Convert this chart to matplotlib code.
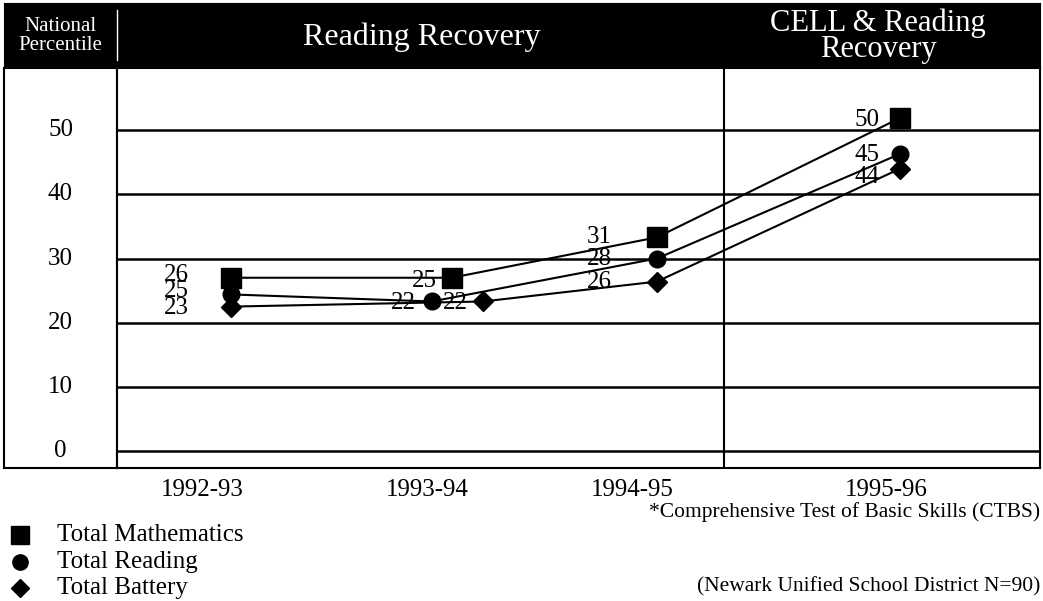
import matplotlib.pyplot as plt
from matplotlib.lines import Line2D

plt.rcParams['font.family'] = ['Liberation Serif', 'DejaVu Serif']

# ---------------------------------------------
# DATOS
# ---------------------------------------------
years = ['1992-93', '1993-94', '1994-95', '1995-96']
year_pos = [-0.13, 0.88, 1.80, 2.94]

math_x = [0.0, 0.99, 1.91, 3.0]
math_y = [27.0, 27.0, 33.3, 51.9]
math_lbl = ['26', '25', '31', '50']

read_x = [0.0, 0.90, 1.91, 3.0]
read_y = [24.4, 23.3, 30.0, 46.3]
read_lbl = ['25', '22', '28', '45']

batt_x = [0.0, 1.13, 1.91, 3.0]
batt_y = [22.5, 23.3, 26.4, 44.0]
batt_lbl = ['23', '22', '26', '44']

y_ticks = [0, 10, 20, 30, 40, 50]

# desplazamiento de cada etiqueta respecto al marcador (pixeles), None = va en el bloque de 1992-93
math_off = [None, (-15, -3), (-45, 0), (-20, -2)]
read_off = [None, (-16, -2), (-45, 0), (-20, -1)]
batt_off = [None, (-15, -2), (-45, 0), (-20, -8)]

W, H = 1043, 601
fig = plt.figure(figsize=(W / 100, H / 100), dpi=100)


def px(x0, y0, x1, y1):
    # rectangulo en pixeles -> coordenadas de figura
    return [x0 / W, 1 - y1 / H, (x1 - x0) / W, (y1 - y0) / H]


ymin, ymax = -2.66, 59.7

# --------------------------------------------------
# ENCABEZADO
# --------------------------------------------------
head = fig.add_axes(px(4, 3, 1040, 68))
head.set_facecolor('black')
head.set_xticks([])
head.set_yticks([])
for s in head.spines.values():
    s.set_color('black')
head.set_xlim(0, 1)
head.set_ylim(0, 1)
head.axvline((117 - 4) / (1040 - 4), ymin=0.12, ymax=0.9, color='white', lw=1)

fig.text(60 / W, 1 - 36 / H, 'National\nPercentile', color='white', fontsize=15,
         ha='center', va='center', linespacing=1.0)
fig.text(422 / W, 1 - 37 / H, 'Reading Recovery', color='white', fontsize=23,
         ha='center', va='center')
fig.text(878 / W, 1 - 36 / H, 'CELL & Reading\nRecovery', color='white', fontsize=22,
         ha='center', va='center', linespacing=0.88)

# --------------------------------------------------
# COLUMNA DE ETIQUETAS
# --------------------------------------------------
lab = fig.add_axes(px(4, 68, 117, 468))
lab.set_ylim(ymin, ymax)
lab.set_xlim(0, 1)
lab.set_xticks([])
lab.set_yticks([])
for s in lab.spines.values():
    s.set_linewidth(1.5)
for v in y_ticks:
    lab.text(0.5, v, str(v), fontsize=18, ha='center', va='center')

# --------------------------------------------------
# GRAFICO PRINCIPAL
# --------------------------------------------------
ax = fig.add_axes(px(117, 68, 1040, 468))
ax.set_ylim(ymin, ymax)
ax.set_xlim(-0.511, 3.628)
ax.set_yticks(y_ticks)
ax.set_yticklabels([])
ax.tick_params(axis='y', length=0)
ax.yaxis.grid(True, color='black', lw=1.8)
ax.set_axisbelow(True)
ax.set_xticks(year_pos, years)
ax.tick_params(axis='x', length=0, pad=8, labelsize=18)
for s in ax.spines.values():
    s.set_linewidth(1.5)
ax.axvline(2.21, color='black', lw=1.5)

series = [
    (math_x, math_y, math_lbl, math_off, 's', 14),
    (read_x, read_y, read_lbl, read_off, 'o', 12),
    (batt_x, batt_y, batt_lbl, batt_off, 'D', 10),
]
for xs, ys, lbls, offs, mk, ms in series:
    ax.plot(xs, ys, color='black', lw=1.5, marker=mk, markersize=ms, zorder=3)
    for x, y, t, off in zip(xs, ys, lbls, offs):
        if off is None:
            continue
        ax.annotate(t, (x, y), xytext=off, textcoords='offset pixels',
                    fontsize=18, ha='right', va='center', zorder=4)

# las tres etiquetas de 1992-93 van apiladas en un solo bloque
first = '\n'.join([math_lbl[0], read_lbl[0], batt_lbl[0]])
ax.annotate(first, (read_x[0], read_y[0]), xytext=(-42, 3), textcoords='offset pixels',
            fontsize=18, ha='right', va='center', linespacing=0.7, zorder=4)

# --------------------------------------------------
# LEYENDA Y NOTAS
# --------------------------------------------------
legend_items = [('s', 13, 'Total Mathematics', 535),
                ('o', 11, 'Total Reading', 562),
                ('D', 9, 'Total Battery', 588)]
for mk, ms, name, yy in legend_items:
    fig.add_artist(Line2D([20 / W], [1 - yy / H], marker=mk, markersize=ms,
                          color='black', transform=fig.transFigure))
    fig.text(57 / W, 1 - yy / H, name, fontsize=18, ha='left', va='center')

fig.text(1040 / W, 1 - 512 / H, '*Comprehensive Test of Basic Skills (CTBS)',
         fontsize=15.5, ha='right', va='center')
fig.text(1040 / W, 1 - 587 / H, '(Newark Unified School District N=90)',
         fontsize=15.5, ha='right', va='center')

plt.savefig('out.png', dpi=100)
